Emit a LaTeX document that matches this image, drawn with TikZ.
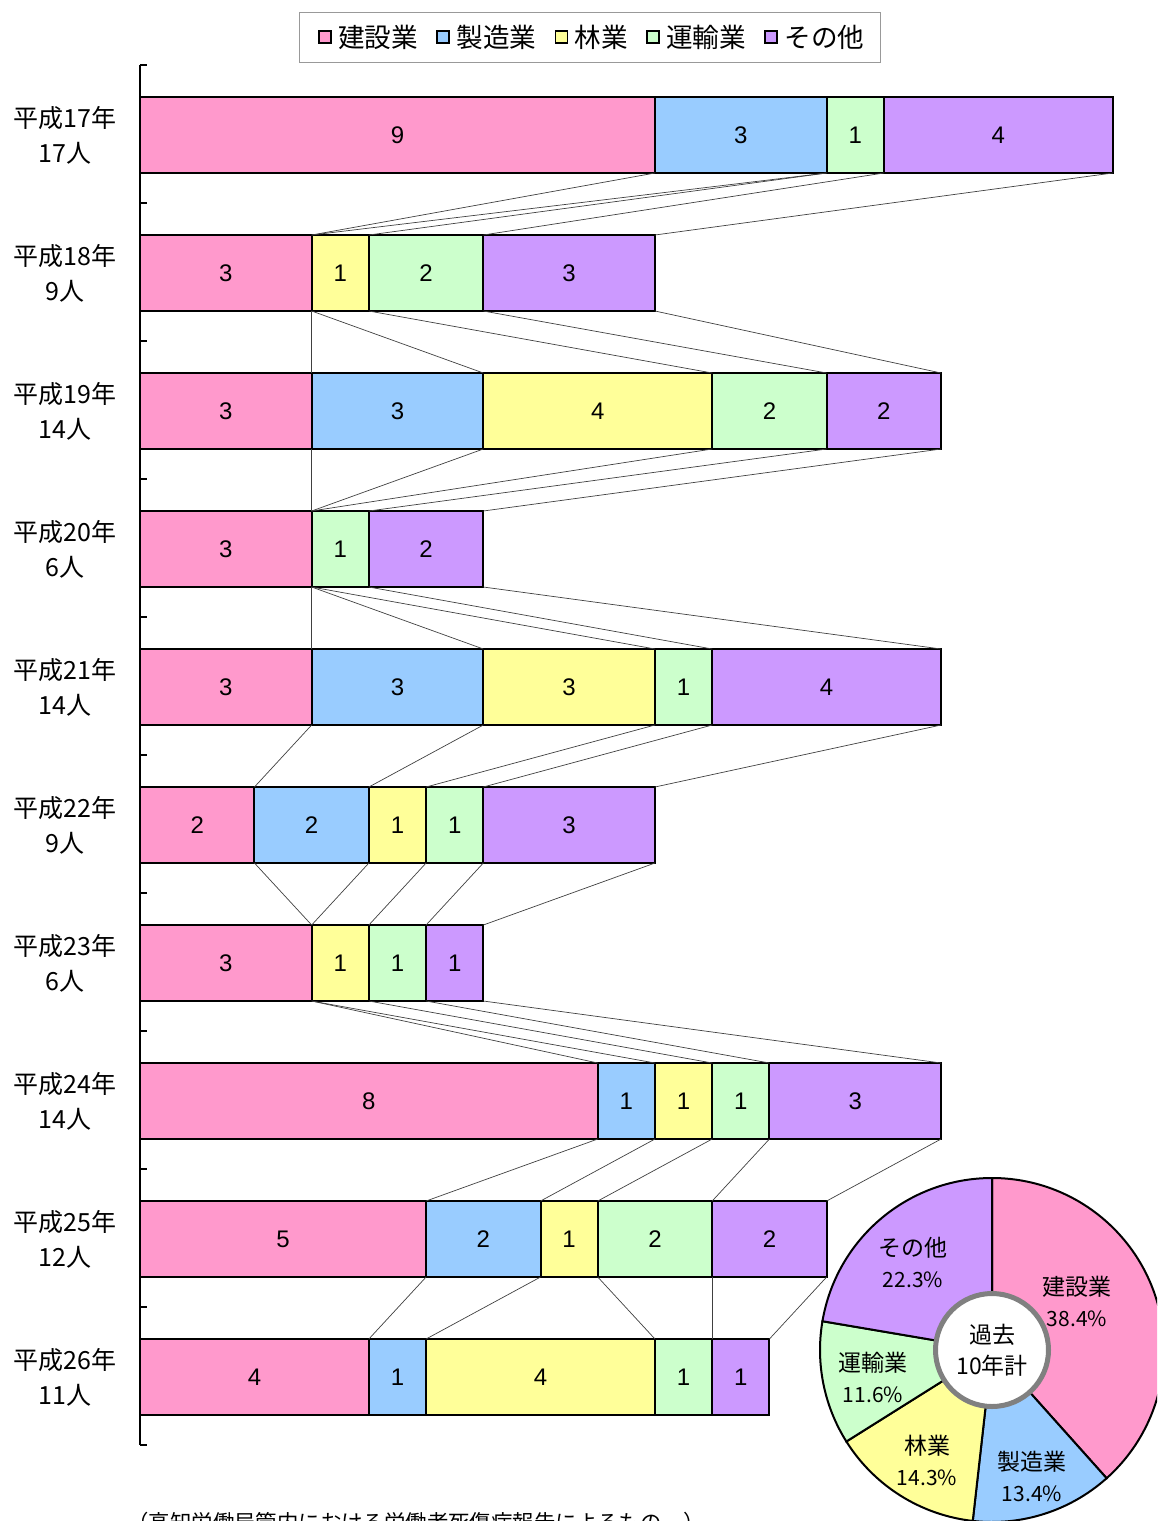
\documentclass[tikz,border=0pt]{standalone}
\usepackage{fontspec}
\setmainfont{Noto Sans CJK JP}
\newfontfamily\numfont{Liberation Sans}
\usetikzlibrary{positioning}

% category colours
\definecolor{cat1}{HTML}{FF99CC} % construction
\definecolor{cat2}{HTML}{99CCFF} % manufacturing
\definecolor{cat3}{HTML}{FFFF99} % forestry
\definecolor{cat4}{HTML}{CCFFCC} % transport
\definecolor{cat5}{HTML}{CC99FF} % other

\begin{document}
\begin{tikzpicture}[x=0.5pt,y=-0.5pt]

% definitions
\tikzstyle{seg} = [rectangle, draw=black, line width=1pt, inner sep=0pt, minimum height=38pt, font=\numfont\fontsize{12}{14}\selectfont]
\tikzstyle{yearlabel} = [align=center, font=\fontsize{12.5}{17.5}\selectfont]
\tikzstyle{serie} = [draw=black!75, line width=0.35pt]
\tikzstyle{legbox} = [rectangle, draw=black, line width=0.8pt, minimum size=6pt, inner sep=0pt]
\tikzstyle{legtext} = [font=\fontsize{13.3}{16}\selectfont, inner sep=0pt]
\tikzstyle{slice} = [draw=black, line width=1pt]
\tikzstyle{pietext} = [align=center, font=\fontsize{11.5}{15.5}\selectfont]

\useasboundingbox (0,0) rectangle (1157,1521);
\clip (0,0) rectangle (1157,1521);

% legend
\node (legend) [draw=gray!80, line width=0.5pt, minimum width=290.5pt, minimum height=25pt] at (589.5,37) {};
\node (lk1) [legbox, fill=cat1] at (325,37) {};
\node (lt1) [legtext, right=3pt of lk1] {建設業};
\node (lk2) [legbox, fill=cat2, right=9pt of lt1] {};
\node (lt2) [legtext, right=3pt of lk2] {製造業};
\node (lk3) [legbox, fill=cat3, right=9pt of lt2] {};
\node (lt3) [legtext, right=3pt of lk3] {林業};
\node (lk4) [legbox, fill=cat4, right=9pt of lt3] {};
\node (lt4) [legtext, right=3pt of lk4] {運輸業};
\node (lk5) [legbox, fill=cat5, right=9pt of lt4] {};
\node (lt5) [legtext, right=3pt of lk5] {その他};

% axis
\draw [line width=1pt] (140,65) -- (140,1445);
\foreach \t in {0,...,10}
  \draw [line width=1pt] (140,{65+138*\t}) -- (147,{65+138*\t});

% the bars
\foreach \r/\yr/\tot/\vals in {0/17/17/{9,3,0,1,4}, 1/18/9/{3,0,1,2,3}, 2/19/14/{3,3,4,2,2},
    3/20/6/{3,0,0,1,2}, 4/21/14/{3,3,3,1,4}, 5/22/9/{2,2,1,1,3}, 6/23/6/{3,0,1,1,1},
    7/24/14/{8,1,1,1,3}, 8/25/12/{5,2,1,2,2}, 9/26/11/{4,1,4,1,1}} {
  \pgfmathsetmacro\ytop{97+138*\r}
  \pgfmathsetmacro\ybot{\ytop+76}
  \pgfmathsetmacro\ymid{\ytop+38}
  \node (yr\r) [yearlabel] at (65,\ymid) {平成\yr 年\\\tot 人};
  \xdef\cum{0}
  \foreach \v [count=\k] in \vals {
    \pgfmathsetmacro\xa{140+57.22*\cum}
    \pgfmathsetmacro\xb{140+57.22*(\cum+\v)}
    \pgfmathsetmacro\xm{(\xa+\xb)/2}
    \coordinate (t\r-\k) at (\xb,\ytop);
    \coordinate (b\r-\k) at (\xb,\ybot);
    \ifnum\v>0
      \node (s\r-\k) [seg, fill=cat\k, minimum width=\v*28.61pt] at (\xm,\ymid) {\v};
    \fi
    \pgfmathsetmacro\newcum{\cum+\v}
    \xdef\cum{\newcum}
  }
}

% series lines
\foreach \r in {0,...,8} {
  \pgfmathtruncatemacro\nx{\r+1}
  \foreach \k in {1,...,5}
    \draw [serie] (b\r-\k) -- (t\nx-\k);
}

% pie of the ten years
\coordinate (pc) at (992,1350);
\foreach \a/\b/\col in {-90/48.21/cat1, 48.21/96.43/cat2, 96.43/147.86/cat3, 147.86/189.64/cat4, 189.64/270/cat5}
  \filldraw [slice, fill=\col] (pc) -- ++(\a:172) arc [start angle=\a, end angle=\b, radius=172] -- cycle;

\node (hub) [circle, draw=gray, line width=2.5pt, fill=white, minimum size=56.5pt, pietext] at (pc) {過去\\10年計};

\node (p1) [pietext] at (1077,1301) {建設業\\{\fontsize{10.5}{15.5}\selectfont 38.4\%}};
\node (p2) [pietext] at (1032,1476) {製造業\\{\fontsize{10.5}{15.5}\selectfont 13.4\%}};
\node (p3) [pietext] at (927,1460) {林業\\{\fontsize{10.5}{15.5}\selectfont 14.3\%}};
\node (p4) [pietext] at (873,1377) {運輸業\\{\fontsize{10.5}{15.5}\selectfont 11.6\%}};
\node (p5) [pietext] at (913,1262) {その他\\{\fontsize{10.5}{15.5}\selectfont 22.3\%}};

% source note
\node (note) [font=\fontsize{10.7}{13}\selectfont] at (416,1522) {（高知労働局管内における労働者死傷病報告によるもの。）};

\end{tikzpicture}
\end{document}
